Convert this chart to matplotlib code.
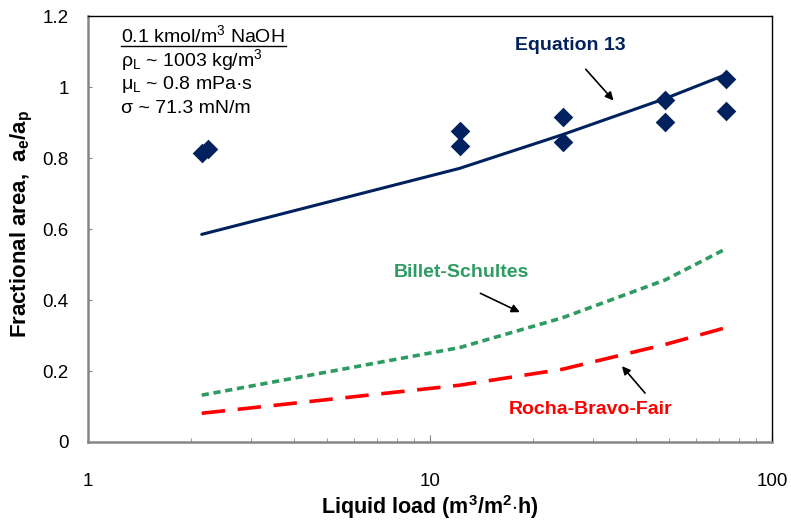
import matplotlib
matplotlib.use("Agg")
import matplotlib.pyplot as plt

plt.rcParams['font.family'] = ['Liberation Sans', 'DejaVu Sans']
plt.rcParams['mathtext.fontset'] = 'custom'
plt.rcParams['mathtext.rm'] = 'Liberation Sans'
plt.rcParams['mathtext.it'] = 'Liberation Sans'
plt.rcParams['mathtext.bf'] = 'Liberation Sans:bold'

# Experimental data
exp_x = [2.15, 2.25, 12.2, 12.2, 24.4, 24.4, 48.8, 48.8, 73.2, 73.2]
exp_y = [0.813, 0.825, 0.875, 0.835, 0.915, 0.845, 0.965, 0.903, 1.022, 0.932]

# Model curves
model_x = [2.15, 12.2, 24.4, 48.8, 73.2]
eq13_y = [0.585, 0.771, 0.866, 0.968, 1.035]
billet_y = [0.132, 0.266, 0.350, 0.457, 0.544]
rbf_y = [0.081, 0.160, 0.205, 0.275, 0.322]

yticks = [0, 0.2, 0.4, 0.6, 0.8, 1.0, 1.2]
yticklabels = ["0", "0.2", "0.4", "0.6", "0.8", "1", "1.2"]

navy = "#00215E"
green = "#2E9B62"
red = "#FF0000"

fig = plt.figure(figsize=(7.91, 5.20), dpi=100)
ax = fig.add_axes([0.1113, 0.15, 0.8647, 0.819])

ax.plot(model_x, eq13_y, color=navy, lw=2.2, solid_capstyle='round')
ax.plot(model_x, billet_y, color=green, lw=2.6, dashes=(2.0, 1.3))
ax.plot(model_x, rbf_y, color=red, lw=2.6, dashes=(6.5, 3.5))
ax.scatter(exp_x, exp_y, marker='D', s=100, color=navy, zorder=5, linewidths=0)

ax.set_xscale('log')
ax.set_xlim(1, 100)
ax.set_ylim(0, 1.2)
ax.set_yticks(yticks)
ax.set_yticklabels(yticklabels)
ax.set_xticks([1, 10, 100])
ax.set_xticklabels(["1", "10", "100"])

for s in ['left', 'bottom']:
    ax.spines[s].set_color('#868686')
    ax.spines[s].set_linewidth(1.8)
for s in ['top', 'right']:
    ax.spines[s].set_color('black')
    ax.spines[s].set_linewidth(1.0)

ax.tick_params(axis='both', which='both', direction='in', color='#868686', labelsize=13.5)
ax.tick_params(axis='x', which='major', length=5, pad=22)
ax.tick_params(axis='x', which='minor', length=3)
ax.tick_params(axis='y', which='major', length=3, pad=14)

xl = ax.set_xlabel(r"Liquid load (m$^\mathbf{3}$/m$^\mathbf{2}$$\cdot$h)", fontsize=15.5, fontweight='bold')
yl = ax.set_ylabel(r"Fractional area,  a$_\mathbf{e}$/a$_\mathbf{p}$", fontsize=16, fontweight='bold')
xl.set_verticalalignment('center')
yl.set_verticalalignment('center')
ax.xaxis.set_label_coords(0.5, -0.152)
ax.yaxis.set_label_coords(-0.097, 0.512)

# Annotations
ax.text(0.705, 0.932, "Equation 13", transform=ax.transAxes, color=navy, fontsize=14,
        fontweight='bold', ha='center', va='center')
ax.annotate("", xy=(0.771, 0.797), xytext=(0.725, 0.88), xycoords='axes fraction',
            arrowprops=dict(arrowstyle='-|>', color='black', lw=1.2, mutation_scale=12))

ax.text(0.546, 0.399, "Billet-Schultes", transform=ax.transAxes, color=green, fontsize=14,
        fontweight='bold', ha='center', va='center')
ax.annotate("", xy=(0.635, 0.302), xytext=(0.57, 0.352), xycoords='axes fraction',
            arrowprops=dict(arrowstyle='-|>', color='black', lw=1.2, mutation_scale=12))

ax.text(0.734, 0.077, "Rocha-Bravo-Fair", transform=ax.transAxes, color=red, fontsize=14,
        fontweight='bold', ha='center', va='center')
ax.annotate("", xy=(0.778, 0.183), xytext=(0.817, 0.11), xycoords='axes fraction',
            arrowprops=dict(arrowstyle='-|>', color='black', lw=1.2, mutation_scale=12))

# Inset properties text
tx = 0.048
fs = 14
ax.text(tx, 0.955, r"0.1 kmol/m$^{3}$ NaOH", transform=ax.transAxes, fontsize=fs, va='center')
ax.plot([tx, 0.289], [0.930, 0.930], transform=ax.transAxes, color='black', lw=1.0, clip_on=False)
ax.text(tx, 0.898, r"ρ$_\mathrm{L}$ ~ 1003 kg/m$^{3}$", transform=ax.transAxes, fontsize=fs, va='center')
ax.text(tx, 0.840, r"μ$_\mathrm{L}$ ~ 0.8 mPa·s", transform=ax.transAxes, fontsize=fs, va='center')
ax.text(tx, 0.783, "σ ~ 71.3 mN/m", transform=ax.transAxes, fontsize=fs, va='center')

fig.savefig("out.png", dpi=100)
